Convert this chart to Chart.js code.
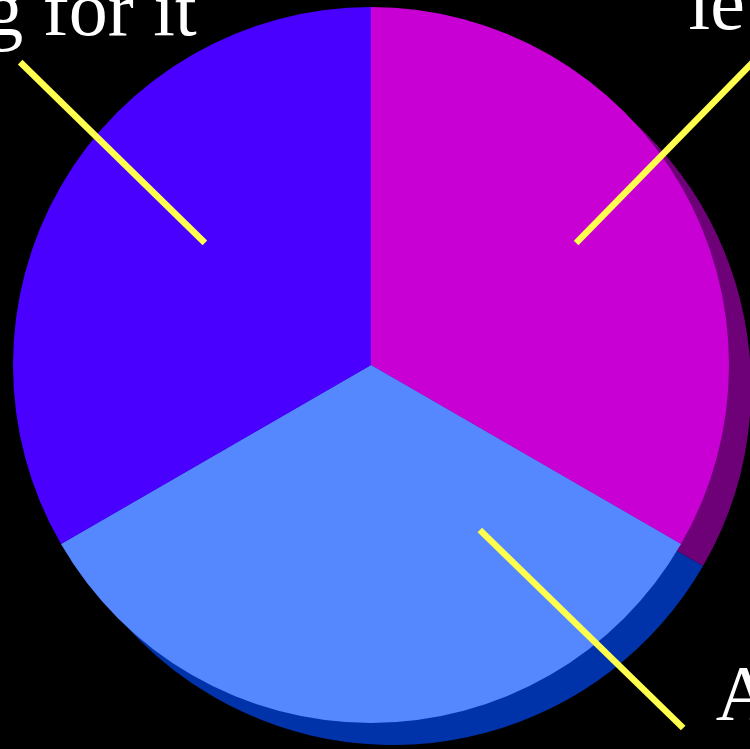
<!DOCTYPE html>
<html>
<head>
<meta charset="utf-8">
<script src="https://cdn.jsdelivr.net/npm/chart.js@4.4.1/dist/chart.umd.min.js"></script>
<style>
  html, body { margin: 0; padding: 0; background: #000; overflow: hidden; }
  #wrap { width: 750px; height: 749px; position: relative; }
</style>
</head>
<body>
<div id="wrap"><canvas id="graficoPizza"></canvas></div>
<script>
const categorias = ['le', 'A', 'g for it'];
const valores = [1, 1, 1];
const cores = ['#C800D4', '#5588FF', '#4A00FF'];
const coresSombra = ['#6E0078', '#0033AA', '#2A0090'];

// sombra "3D" deslocada para baixo/direita
const sombraPlugin = {
  id: 'sombra',
  beforeDatasetsDraw(chart, args, opts) {
    const ctx = chart.ctx;
    const meta = chart.getDatasetMeta(0);
    meta.data.forEach((arc, i) => {
      const p = arc.getProps(['x', 'y', 'startAngle', 'endAngle', 'outerRadius'], true);
      ctx.save();
      ctx.fillStyle = coresSombra[i];
      ctx.beginPath();
      ctx.moveTo(p.x + opts.dx, p.y + opts.dy);
      ctx.arc(p.x + opts.dx, p.y + opts.dy, p.outerRadius, p.startAngle, p.endAngle);
      ctx.closePath();
      ctx.fill();
      ctx.restore();
    });
  }
};

// linhas amarelas e rótulos, relativos ao centro/raio da pizza
const rotulosPlugin = {
  id: 'rotulos',
  afterDatasetsDraw(chart, args, opts) {
    const ctx = chart.ctx;
    const arc = chart.getDatasetMeta(0).data[0];
    const { x: cx, y: cy, outerRadius: r } = arc.getProps(['x', 'y', 'outerRadius'], true);
    ctx.save();
    ctx.strokeStyle = opts.lineColor;
    ctx.lineWidth = 6.5;
    ctx.lineCap = 'butt';
    opts.linhas.forEach(l => {
      ctx.beginPath();
      ctx.moveTo(cx + l[0] * r, cy + l[1] * r);
      ctx.lineTo(cx + l[2] * r, cy + l[3] * r);
      ctx.stroke();
    });
    ctx.fillStyle = '#ffffff';
    ctx.font = '78px "Liberation Serif", "Times New Roman", serif';
    ctx.textBaseline = 'alphabetic';
    ctx.textAlign = 'left';
    opts.textos.forEach(t => {
      ctx.fillText(categorias[t.i], cx + t.x * r, cy + t.y * r);
    });
    ctx.restore();
  }
};

new Chart(document.getElementById('graficoPizza'), {
  type: 'pie',
  data: {
    labels: categorias,
    datasets: [{
      data: valores,
      backgroundColor: cores,
      borderWidth: 0,
      hoverOffset: 0
    }]
  },
  options: {
    responsive: true,
    maintainAspectRatio: false,
    animation: false,
    events: [],
    layout: { padding: { left: 13, right: 21, top: 7, bottom: 26 } },
    plugins: {
      legend: { display: false },
      tooltip: { enabled: false },
      sombra: { dx: 22, dy: 22 },
      rotulos: {
        lineColor: '#FFFF4D',
        linhas: [
          [-0.464, -0.341, -0.980, -0.846],
          [0.573, -0.341, 1.10, -0.880],
          [0.304, 0.461, 0.872, 1.014]
        ],
        textos: [
          { i: 2, x: -1.080, y: -0.922 },
          { i: 0, x: 0.887, y: -0.939 },
          { i: 1, x: 0.963, y: 0.988 }
        ]
      }
    }
  },
  plugins: [sombraPlugin, rotulosPlugin]
});
</script>
</body>
</html>
